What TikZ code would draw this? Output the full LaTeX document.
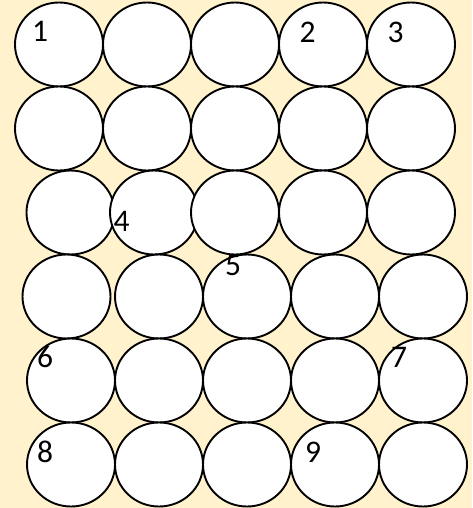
\documentclass[tikz,border=0pt]{standalone}
\usepackage{fontspec}
\setmainfont{Carlito}
\usetikzlibrary{shapes.geometric}
\definecolor{bgcream}{HTML}{FFF2CC}
\tikzset{
  ball/.style={ellipse, draw=black, fill=white, line width=1.9pt, minimum width=88pt, minimum height=84pt, inner sep=0pt},
  num/.style={anchor=base, inner sep=0pt, font=\fontsize{31.5}{36}\selectfont, text=black}
}
\begin{document}
\begin{tikzpicture}[x=1pt,y=-1pt]
\fill[bgcream] (0,0) rectangle (472,508);
\useasboundingbox (0,0) rectangle (472,508);
% row 1
\node[ball] (c11) at (59,44.5) {};
\node[ball] (c12) at (147,44.5) {};
\node[ball] (c13) at (235,44.5) {};
\node[ball] (c14) at (323,44.5) {};
\node[ball] (c15) at (411,44.5) {};
% row 2
\node[ball] (c21) at (59,128.5) {};
\node[ball] (c22) at (147,128.5) {};
\node[ball] (c23) at (235,128.5) {};
\node[ball] (c24) at (323,128.5) {};
\node[ball] (c25) at (411,128.5) {};
% row 3
\node[ball] (c31) at (70.5,212.5) {};
\node[ball] (c32) at (154,212.5) {};
\node[ball] (c33) at (235,212.5) {};
\node[ball] (c34) at (323,212.5) {};
\node[ball] (c35) at (411,212.5) {};
% row 4
\node[ball] (c41) at (66.5,296.5) {};
\node[ball] (c42) at (159,296.5) {};
\node[ball] (c43) at (247,296.5) {};
\node[ball] (c44) at (335,296.5) {};
\node[ball] (c45) at (423,296.5) {};
% row 5
\node[ball] (c51) at (71,380.5) {};
\node[ball] (c52) at (159,380.5) {};
\node[ball] (c53) at (247,380.5) {};
\node[ball] (c54) at (335,380.5) {};
\node[ball] (c55) at (423,380.5) {};
% row 6
\node[ball] (c61) at (71,464.5) {};
\node[ball] (c62) at (159,464.5) {};
\node[ball] (c63) at (247,464.5) {};
\node[ball] (c64) at (335,464.5) {};
\node[ball] (c65) at (423,464.5) {};
% labels
\node[num] (n1) at (40,41.7) {1};
\node[num] (n2) at (307.5,42.3) {2};
\node[num] (n3) at (395.5,42.3) {3};
\node[num] (n4) at (121.5,231) {4};
\node[num] (n5) at (233,275.5) {5};
\node[num] (n6) at (45,367.3) {6};
\node[num] (n7) at (399,367.7) {7};
\node[num] (n8) at (45,462.3) {8};
\node[num] (n9) at (313,462) {9};
\end{tikzpicture}
\end{document}
